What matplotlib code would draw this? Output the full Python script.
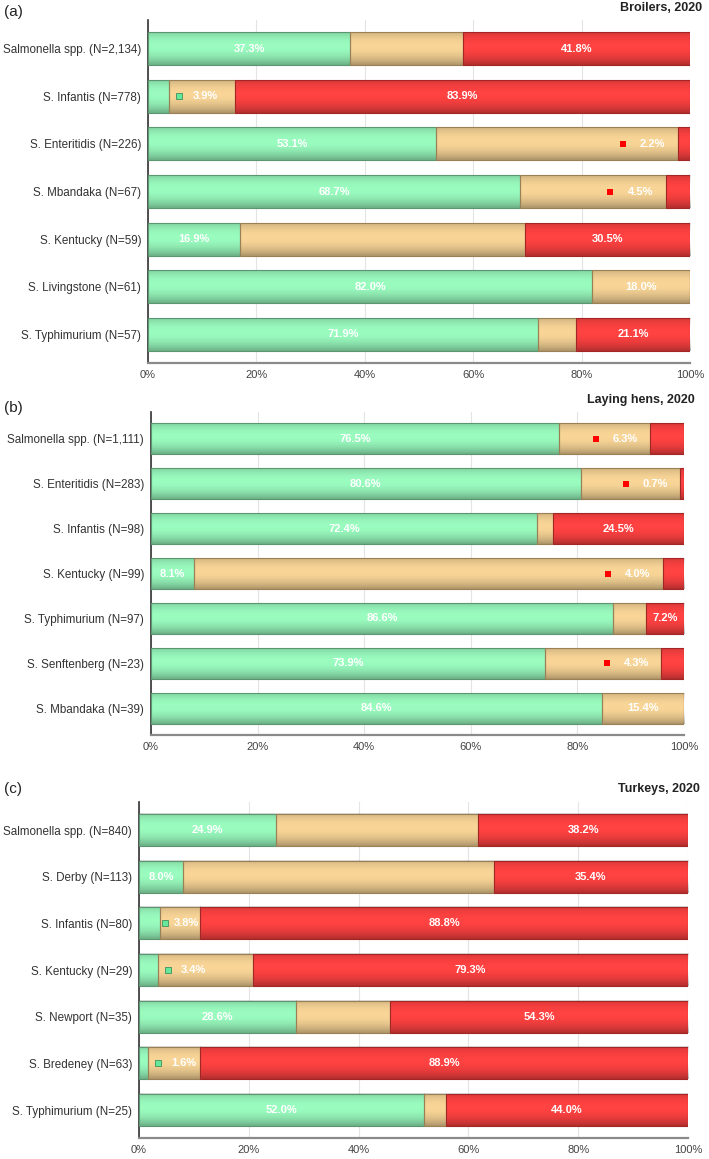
import numpy as np
import matplotlib
matplotlib.use("Agg")
from matplotlib import pyplot as plt

plt.rcParams['font.family'] = ['Liberation Sans', 'DejaVu Sans']

# (a) broilers
broiler_labels = ["Salmonella spp. (N=2,134)", "S. Infantis (N=778)", "S. Enteritidis (N=226)",
                  "S. Mbandaka (N=67)", "S. Kentucky (N=59)", "S. Livingstone (N=61)",
                  "S. Typhimurium (N=57)"]
broiler_green = [37.3, 3.9, 53.1, 68.7, 16.9, 82.0, 71.9]
broiler_red = [41.8, 83.9, 2.2, 4.5, 30.5, 0.0, 21.1]

# (b) laying hens
hen_labels = ["Salmonella spp. (N=1,111)", "S. Enteritidis (N=283)", "S. Infantis (N=98)",
              "S. Kentucky (N=99)", "S. Typhimurium (N=97)", "S. Senftenberg (N=23)",
              "S. Mbandaka (N=39)"]
hen_green = [76.5, 80.6, 72.4, 8.1, 86.6, 73.9, 84.6]
hen_red = [6.3, 0.7, 24.5, 4.0, 7.2, 4.3, 0.0]

# (c) turkeys
turkey_labels = ["Salmonella spp. (N=840)", "S. Derby (N=113)", "S. Infantis (N=80)",
                 "S. Kentucky (N=29)", "S. Newport (N=35)", "S. Bredeney (N=63)",
                 "S. Typhimurium (N=25)"]
turkey_green = [24.9, 8.0, 3.8, 3.4, 28.6, 1.6, 52.0]
turkey_red = [38.2, 35.4, 88.8, 79.3, 54.3, 88.9, 44.0]

GREEN = '#9afbbf'
TAN = '#f8d597'
RED = '#ff4242'
EDGE = {GREEN: '#5b9670', TAN: '#9c8055', RED: '#a32626'}
H = 0.69


def shade(ax, left, width, y):
    # darker top/bottom band to fake the glossy look of the original bars
    if width <= 0:
        return
    t = np.linspace(0, 1, 50)
    img = np.zeros((50, 1, 4))
    img[:, 0, 3] = 0.30 * (np.abs(t - 0.42) / 0.58) ** 2
    ax.imshow(img, extent=(left, left + width, y - H / 2, y + H / 2), aspect='auto',
              interpolation='bilinear', origin='upper', zorder=2.5)


def draw_panel(rect, labels, green, red, title, letter, title_xy, letter_y):
    ax = fig.add_axes(rect)
    green = np.array(green)
    red = np.array(red)
    tan = 100 - green - red
    n = len(labels)
    y = np.arange(n)[::-1]

    lefts = [np.zeros(n), green, green + tan]
    for vals, left, col in zip([green, tan, red], lefts, [GREEN, TAN, RED]):
        ax.barh(y, vals, left=left, height=H, color=col, linewidth=0, zorder=2)
        for yy, l, v in zip(y, left, vals):
            shade(ax, l, v, yy)
        ax.barh(y, vals, left=left, height=H, fill=False, edgecolor=EDGE[col],
                linewidth=0.8, zorder=3)

    txt = dict(color='white', fontsize=8, fontweight='bold', ha='center', va='center', zorder=5)
    for i in range(n):
        g, t, r = green[i], tan[i], red[i]
        if g >= 7:
            ax.text(g / 2, y[i], f"{g:.1f}%", **txt)
        else:
            # small share: label goes into the tan part with a colour key
            tx = min(g + 6.6, g + t - 2.5)
            mx = max(g + 0.9, tx - 4.8)
            ax.plot(mx, y[i], 's', ms=4.5, color='#66e89a', mec='#3f8f5d', mew=0.6, zorder=5)
            ax.text(tx, y[i], f"{g:.1f}%", **txt)
        if r > 0:
            if r >= 7:
                ax.text(g + t + r / 2, y[i], f"{r:.1f}%", **txt)
            else:
                tx = g + t - 4.7
                ax.plot(tx - 5.5, y[i], 's', ms=4.5, color='#ff0000', mew=0, zorder=5)
                ax.text(tx, y[i], f"{r:.1f}%", **txt)
        else:
            ax.text(g + t / 2, y[i], f"{t:.1f}%", **txt)

    ax.set_xlim(0, 100)
    ax.set_ylim(-0.6, n - 0.4)
    ax.set_yticks(y)
    ax.set_yticklabels(labels, fontsize=8.4, color='#333333')
    ax.set_xticks(range(0, 101, 20))
    ax.set_xticklabels([f"{v}%" for v in range(0, 101, 20)], fontsize=8, color='#444444')
    ax.tick_params(length=0, pad=5)
    ax.grid(axis='x', color='#e4e4e4', linewidth=0.8)
    ax.set_axisbelow(True)
    for s in ['top', 'right']:
        ax.spines[s].set_visible(False)
    ax.spines['left'].set_color('#333333')
    ax.spines['left'].set_linewidth(1.2)
    ax.spines['bottom'].set_color('#8a8a8a')
    ax.spines['bottom'].set_linewidth(1.6)

    fig.text(title_xy[0], title_xy[1], title, ha='right', va='center', fontsize=9,
             fontweight='bold', color='#222222')
    fig.text(0.006, letter_y, letter, ha='left', va='center', fontsize=11, color='#222222')
    return ax


fig = plt.figure(figsize=(7.09, 11.59), dpi=100)

draw_panel([0.2087, 0.6868, 0.7645, 0.2959], broiler_labels, broiler_green, broiler_red,
           "Broilers, 2020", "(a)", (0.990, 1 - 8 / 1159), 1 - 12 / 1159)
draw_panel([0.2130, 0.3658, 0.7518, 0.2787], hen_labels, hen_green, hen_red,
           "Laying hens, 2020", "(b)", (0.980, 1 - 400 / 1159), 1 - 408 / 1159)
draw_panel([0.1960, 0.0181, 0.7743, 0.2899], turkey_labels, turkey_green, turkey_red,
           "Turkeys, 2020", "(c)", (0.987, 1 - 789 / 1159), 1 - 789 / 1159)

fig.savefig("out.png", dpi=100)
